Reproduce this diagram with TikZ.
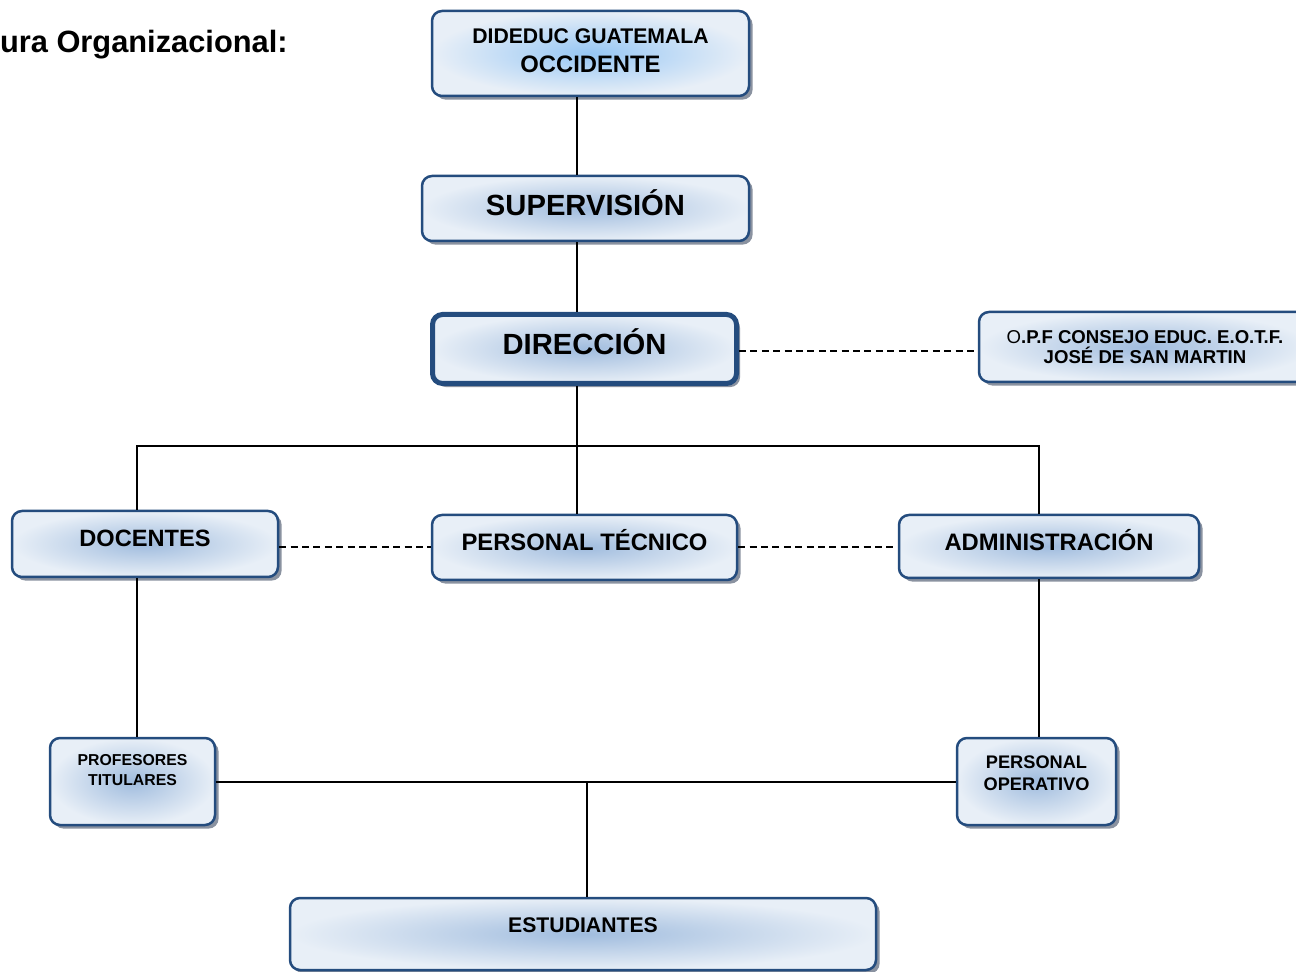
\documentclass[tikz,border=0pt]{standalone}
\usepackage{fontspec}
\setmainfont{Liberation Sans}
\usetikzlibrary{positioning}
\usetikzlibrary{calc,shadows}

\definecolor{BoxBorder}{RGB}{36,76,126}
\definecolor{BoxInner}{RGB}{160,188,222}
\definecolor{BoxOuter}{RGB}{232,239,247}
\definecolor{TopInner}{RGB}{150,198,244}
\definecolor{ShadowGray}{RGB}{138,146,160}

\tikzset{
	orgbox/.style={draw=BoxBorder, line width=1.25pt, rounded corners=5pt,
		inner color=BoxInner, outer color=BoxOuter, inner sep=0pt,
		drop shadow={shadow xshift=1.8pt, shadow yshift=-1.8pt, fill=ShadowGray, opacity=1},
		font=\bfseries, align=center},
	link/.style={line width=1pt},
	dashlink/.style={line width=1pt, dash pattern=on 3.5pt off 2.2pt},
}

\begin{document}
\begin{tikzpicture}[x=0.5pt, y=-0.5pt]

	% ------------------------------------------------
	% Ensure the dimensions of graphic are appropriate
	\useasboundingbox (0,0) rectangle (1296,972);

	% ------------------------------------------------
	% Title
	\node[anchor=east, inner sep=0pt, font=\bfseries\fontsize{15.4}{18}\selectfont] (Title) at (288,45) {ura Organizacional:};

	% ------------------------------------------------
	% Boxes
	\node[orgbox, inner color=TopInner, minimum width=158.5pt, minimum height=42.5pt, text depth=3pt,
		font=\bfseries\fontsize{11.9}{14.5}\selectfont] (Dideduc) at (590.5,53.5)
		{{\fontsize{10.6}{14.5}\selectfont DIDEDUC GUATEMALA}\\OCCIDENTE};
	\node[orgbox, minimum width=163.5pt, minimum height=32.5pt, text depth=5.5pt,
		font=\bfseries\fontsize{14.6}{17}\selectfont] (Supervision) at (585.5,208.5) {SUPERVISIÓN};
	\node[orgbox, line width=2.5pt, minimum width=152pt, minimum height=34.5pt, text depth=7pt,
		font=\bfseries\fontsize{14.6}{17}\selectfont] (Direccion) at (584.5,349) {DIRECCIÓN};
	\node[orgbox, minimum width=166pt, minimum height=35pt,
		font=\bfseries\fontsize{9.3}{10}\selectfont] (Opf) at (1145,347)
		{\textmd{O}.P.F CONSEJO EDUC. E.O.T.F.\\JOSÉ DE SAN MARTIN};

	\node[orgbox, minimum width=133pt, minimum height=33pt, text depth=6pt,
		font=\bfseries\fontsize{11.8}{14}\selectfont] (Docentes) at (145,544) {DOCENTES};
	\node[orgbox, minimum width=152.5pt, minimum height=32.5pt, text depth=7.5pt,
		font=\bfseries\fontsize{11.9}{14}\selectfont] (PersTecnico) at (584.5,547.5) {PERSONAL TÉCNICO};
	\node[orgbox, minimum width=150pt, minimum height=31.5pt, text depth=6.5pt,
		font=\bfseries\fontsize{11.9}{14}\selectfont] (Administracion) at (1049,546.5) {ADMINISTRACIÓN};

	\node[orgbox, minimum width=82.5pt, minimum height=43.5pt, text depth=11.5pt,
		font=\bfseries\fontsize{7.9}{10}\selectfont] (Profesores) at (132.5,781.5) {PROFESORES\\TITULARES};
	\node[orgbox, minimum width=79.5pt, minimum height=43.5pt, text depth=8.5pt,
		font=\bfseries\fontsize{9.1}{11}\selectfont] (PersOperativo) at (1036.5,781.5) {PERSONAL\\OPERATIVO};

	\node[orgbox, minimum width=293pt, minimum height=36pt, text depth=9pt,
		font=\bfseries\fontsize{10.6}{13}\selectfont] (Estudiantes) at (583,934) {ESTUDIANTES};

	% ------------------------------------------------
	% Relevant coordinates
	\coordinate (Trunk) at (577,0);
	\coordinate (BusL) at (136.5,446);
	\path (BusL) +(902.5,0) coordinate (BusR);
	\coordinate (Drop) at (587,0);
	\coordinate (SideLine) at (0,351);

	% ----------------
	% Solid connectors
	\draw[link] (Dideduc.south -| Trunk) -- (Supervision.north -| Trunk);
	\draw[link] (Supervision.south -| Trunk) -- (Direccion.north -| Trunk);
	\draw[link] (Direccion.south -| Trunk) -- (PersTecnico.north -| Trunk);
	\draw[link] (BusL |- Docentes.north) -- (BusL) -- (BusR) -- (BusR |- Administracion.north);
	\draw[link] (Docentes.south -| BusL) -- (Profesores.north -| BusL);
	\draw[link] (Administracion.south -| BusR) -- (PersOperativo.north -| BusR);
	\draw[link] (Profesores.east) -- (PersOperativo.west);
	\draw[link] (Profesores.east -| Drop) -- (Estudiantes.north -| Drop);

	% ----------------
	% Dashed connectors
	\draw[dashlink] (Direccion.east |- SideLine) -- (Opf.west |- SideLine);
	\draw[dashlink] (PersTecnico.west -| Docentes.east) -- (PersTecnico.west);
	\draw[dashlink] (PersTecnico.east) -- (PersTecnico.east -| Administracion.west);

\end{tikzpicture}
\end{document}
